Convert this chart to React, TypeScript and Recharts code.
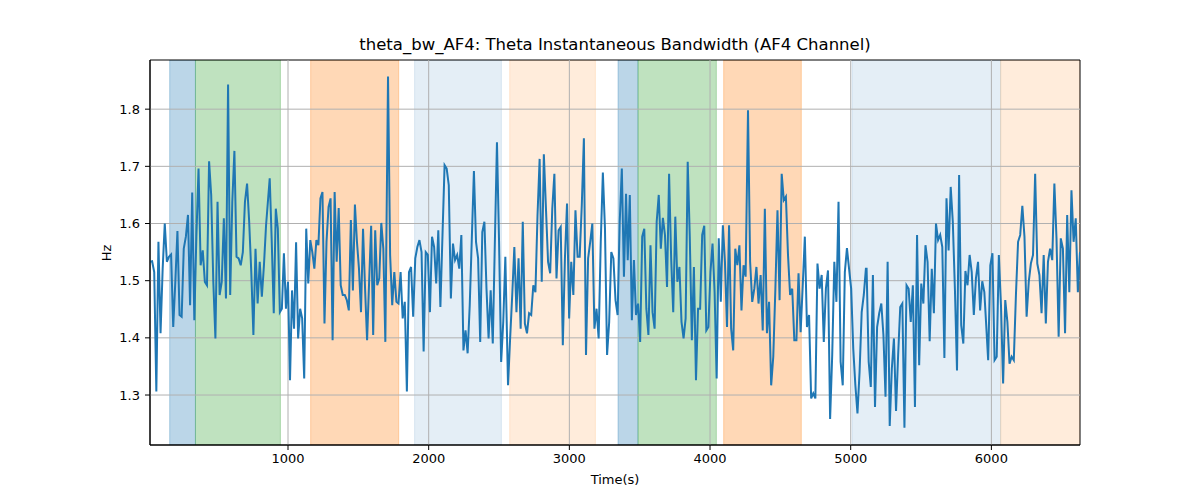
import { LineChart, Line, XAxis, YAxis, ReferenceArea, ReferenceLine } from "recharts";

// bandwidth samples in eight consecutive stretches
const seg1 = [
  1.533, 1.534, 1.515, 1.306, 1.568, 1.408, 1.521, 1.6, 1.533, 1.542, 1.546, 1.419, 1.498, 1.587,
  1.44, 1.437, 1.556, 1.577, 1.615, 1.457, 1.654, 1.431, 1.58, 1.696, 1.527, 1.553, 1.498, 1.492,
  1.709, 1.65, 1.498, 1.399, 1.638, 1.475, 1.498, 1.609, 1.469, 1.843, 1.475, 1.638, 1.727, 1.542,
  1.539, 1.527, 1.55, 1.638, 1.67, 1.603, 1.515, 1.405, 1.556, 1.46, 1.533, 1.472, 1.527, 1.597,
];
const seg2 = [
  1.679, 1.568, 1.443, 1.626, 1.591, 1.445, 1.451, 1.548, 1.451, 1.498, 1.326, 1.483, 1.416, 1.567,
  1.399, 1.451, 1.434, 1.329, 1.591, 1.495, 1.571, 1.55, 1.521, 1.571, 1.562, 1.644, 1.655, 1.425,
  1.568, 1.629, 1.644, 1.396, 1.655, 1.533, 1.627, 1.492, 1.475, 1.475, 1.466, 1.448, 1.606, 1.483,
  1.633, 1.568, 1.521, 1.445, 1.591, 1.486, 1.396, 1.498, 1.596, 1.405, 1.588, 1.492, 1.504, 1.601,
  1.556, 1.393,
];
const seg3 = [
  1.857, 1.545, 1.457, 1.515, 1.463, 1.46, 1.515, 1.434, 1.463, 1.306, 1.515, 1.524, 1.437, 1.539,
  1.559, 1.571, 1.55, 1.376, 1.55, 1.545, 1.445, 1.577, 1.559, 1.495, 1.588, 1.454, 1.58, 1.702,
  1.696, 1.667, 1.469, 1.565, 1.536, 1.545, 1.521, 1.58, 1.378, 1.413, 1.373, 1.457, 1.574, 1.692,
  1.568, 1.539, 1.393, 1.585, 1.603, 1.486, 1.399, 1.483, 1.39, 1.568, 1.742, 1.568, 1.358, 1.428,
  1.542,
];
const seg4 = [
  1.317, 1.399, 1.475, 1.559, 1.445, 1.539, 1.416, 1.603, 1.425, 1.408, 1.443, 1.44, 1.492, 1.48,
  1.615, 1.713, 1.498, 1.721, 1.626, 1.533, 1.513, 1.626, 1.687, 1.504, 1.588, 1.594, 1.387, 1.539,
  1.635, 1.434, 1.533, 1.475, 1.623, 1.542, 1.542, 1.632, 1.749, 1.37, 1.539, 1.568, 1.6, 1.416,
  1.451, 1.399, 1.568, 1.689, 1.591, 1.37, 1.428, 1.55, 1.539, 1.466, 1.44, 1.603, 1.696, 1.507,
  1.652,
];
const seg5 = [
  1.536, 1.65, 1.431, 1.536, 1.44, 1.46, 1.393, 1.577, 1.591, 1.451, 1.405, 1.562, 1.445, 1.416,
  1.603, 1.65, 1.556, 1.61, 1.58, 1.489, 1.687, 1.539, 1.445, 1.612, 1.498, 1.524, 1.428, 1.399,
  1.434, 1.708, 1.577, 1.396, 1.524, 1.326, 1.451, 1.451, 1.58, 1.596, 1.413, 1.419, 1.515, 1.565,
  1.48, 1.329, 1.574, 1.463, 1.597, 1.533, 1.419, 1.597, 1.416, 1.378, 1.556, 1.527, 1.562, 1.448,
  1.527, 1.507,
];
const seg6 = [
  1.798, 1.533, 1.463, 1.486, 1.524, 1.46, 1.51, 1.413, 1.626, 1.408, 1.463, 1.317, 1.367, 1.486,
  1.623, 1.466, 1.687, 1.641, 1.647, 1.545, 1.475, 1.486, 1.396, 1.396, 1.513, 1.41, 1.492, 1.577,
  1.419, 1.44, 1.294, 1.303, 1.294, 1.53, 1.486, 1.51, 1.393, 1.486, 1.518, 1.258, 1.37, 1.533,
  1.463, 1.638, 1.358, 1.317, 1.515, 1.557, 1.521, 1.486, 1.381, 1.317, 1.268, 1.341, 1.445, 1.475,
  1.521,
];
const seg7 = [
  1.521, 1.358, 1.314, 1.51, 1.279, 1.419, 1.443, 1.46, 1.405, 1.297, 1.533, 1.246, 1.346, 1.399,
  1.272, 1.37, 1.454, 1.46, 1.243, 1.492, 1.486, 1.428, 1.492, 1.279, 1.58, 1.352, 1.495, 1.46,
  1.562, 1.533, 1.394, 1.521, 1.443, 1.6, 1.571, 1.58, 1.559, 1.365, 1.644, 1.553, 1.664, 1.603,
  1.486, 1.343, 1.685, 1.422, 1.39, 1.517, 1.492, 1.545, 1.515, 1.44, 1.504, 1.533, 1.448, 1.499,
  1.48,
];
const seg8 = [
  1.428, 1.361, 1.527, 1.548, 1.361, 1.367, 1.545, 1.457, 1.32, 1.466, 1.428, 1.355, 1.367, 1.361,
  1.475, 1.568, 1.58, 1.631, 1.577, 1.437, 1.498, 1.53, 1.545, 1.687, 1.53, 1.51, 1.443, 1.545,
  1.425, 1.533, 1.556, 1.536, 1.67, 1.574, 1.402, 1.574, 1.556, 1.408, 1.615, 1.48, 1.658, 1.568,
  1.609, 1.48, 1.55,
];

// time (s) of the first and last sample in each stretch
const segStarts = [19, 870, 1711, 2564, 3415, 4270, 5113, 5962];
const segEnds = [844, 1692, 2545, 3403, 4253, 5108, 5950, 6630];

// shaded task blocks: [start, end, color, alpha]
const spanStarts = [159, 342, 1161, 1900, 2576, 3346, 3488, 4097, 5009, 6066];
const spanEnds = [342, 946, 1787, 2517, 3185, 3488, 4045, 4649, 6066, 6630];
const spanColors = ["#1f77b4", "#2ca02c", "#ff7f0e", "#1f77b4", "#ff7f0e", "#1f77b4", "#2ca02c", "#ff7f0e", "#1f77b4", "#ff7f0e"];
const spanAlphas = [0.3, 0.3, 0.3, 0.12, 0.15, 0.3, 0.3, 0.3, 0.12, 0.15];

const xTicks = [1000, 2000, 3000, 4000, 5000, 6000];
const yTicks = [1.3, 1.4, 1.5, 1.6, 1.7, 1.8];

const X_MIN = 19;
const X_MAX = 6630;
const Y_MIN = 1.2126;
const Y_MAX = 1.886;

const segments = [seg1, seg2, seg3, seg4, seg5, seg6, seg7, seg8];
const data: { t: number; hz: number }[] = [];
segments.forEach((vals, k) => {
  const step = (segEnds[k] - segStarts[k]) / (vals.length - 1);
  vals.forEach((v, i) => data.push({ t: segStarts[k] + i * step, hz: v }));
});

const font = "'DejaVu Sans', sans-serif";

export default function App() {
  return (
    <div style={{ position: "absolute", left: 0, top: 0, width: 1200, height: 500, background: "#fff", fontFamily: font }}>
      <div style={{ position: "absolute", left: 150, width: 930, top: 35, textAlign: "center", fontSize: 16.5, color: "#000" }}>
        theta_bw_AF4: Theta Instantaneous Bandwidth (AF4 Channel)
      </div>
      <div style={{ position: "absolute", left: 150, width: 930, top: 472, textAlign: "center", fontSize: 13, color: "#000" }}>
        Time(s)
      </div>
      <div
        style={{
          position: "absolute",
          left: 106,
          top: 253,
          fontSize: 13,
          color: "#000",
          transform: "translate(-50%, -50%) rotate(-90deg)",
        }}
      >
        Hz
      </div>
      <LineChart width={1200} height={500} data={data} margin={{ top: 60, right: 120, bottom: 25, left: 90 }}>
        <XAxis
          dataKey="t"
          type="number"
          domain={[X_MIN, X_MAX]}
          ticks={xTicks}
          allowDataOverflow
          height={30}
          tickSize={5}
          tickMargin={4}
          stroke="#000"
          tick={{ fill: "#000", fontSize: 13, fontFamily: font }}
        />
        <YAxis
          type="number"
          domain={[Y_MIN, Y_MAX]}
          ticks={yTicks}
          allowDataOverflow
          width={60}
          tickSize={5}
          tickMargin={5}
          stroke="#000"
          tickFormatter={(v: number) => v.toFixed(1)}
          tick={{ fill: "#000", fontSize: 13, fontFamily: font }}
        />
        {spanStarts.map((s, i) => (
          <ReferenceArea
            key={"span" + i}
            x1={s}
            x2={spanEnds[i]}
            fill={spanColors[i]}
            fillOpacity={spanAlphas[i]}
            stroke={spanColors[i]}
            strokeOpacity={spanAlphas[i]}
            ifOverflow="hidden"
          />
        ))}
        {xTicks.map((x) => (
          <ReferenceLine key={"gx" + x} x={x} stroke="#b0b0b0" strokeWidth={1} />
        ))}
        {yTicks.map((y) => (
          <ReferenceLine key={"gy" + y} y={y} stroke="#b0b0b0" strokeWidth={1} />
        ))}
        <Line type="linear" dataKey="hz" stroke="#1f77b4" strokeWidth={2} dot={false} isAnimationActive={false} />
        <ReferenceArea x1={X_MIN} x2={X_MAX} fill="none" stroke="#000" strokeWidth={1} />
      </LineChart>
    </div>
  );
}
